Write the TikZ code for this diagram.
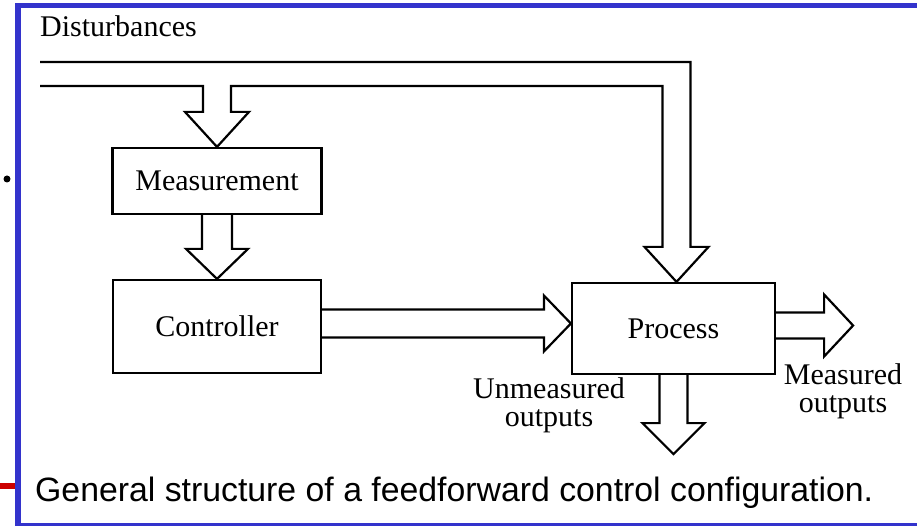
\documentclass[tikz,border=0pt]{standalone}
\usepackage{fontspec}
\setmainfont{Liberation Serif}
\newfontfamily\capfont{Liberation Sans}
\usetikzlibrary{calc}
\definecolor{frameblue}{RGB}{51,51,204}
\definecolor{framered}{RGB}{204,0,0}
\begin{document}
\begin{tikzpicture}[x=1pt,y=-1pt,
    blk/.style={draw,line width=2.2pt,inner sep=0pt,font=\fontsize{30}{27}\selectfont},
    lbl/.style={inner sep=0pt,align=center,font=\fontsize{30}{28}\selectfont},
    fat/.style={draw,line width=2.2pt,line join=miter}]
\useasboundingbox (0,0) rectangle (917,526);
% frame
\fill[frameblue] (15,3) rectangle (917,8);
\fill[frameblue] (15,3) rectangle (21,526);
\fill[frameblue] (15,523) rectangle (917,526);
\fill[framered] (0,483) rectangle (15,489);
\fill (7,179) circle (3.5pt);

% blocks
\node[blk,minimum width=209pt,minimum height=66pt] (meas) at (217,181) {Measurement};
\node[blk,minimum width=208pt,minimum height=93pt] (ctrl) at (217,326.5) {Controller};
\node[blk,minimum width=203pt,minimum height=91pt] (proc) at (673.5,328.5) {Process};

% labels
\node[lbl,anchor=base west] (dist) at (40,37) {Disturbances};
\node[lbl] (unmeas) at (549,405) {Unmeasured\\outputs};
\node[lbl] (measout) at (843,391) {Measured\\outputs};
\node[anchor=base west,inner sep=0pt,font=\capfont\fontsize{33.8}{34}\selectfont] (cap) at (35,501) {General structure of a feedforward control configuration.};

% disturbances into measurement and process
\coordinate (in1) at (40,86);
\coordinate (in2) at (40,62);
\coordinate (ptip) at ($(proc.north)+(3,0)$);
\coordinate (pl) at ($(ptip)+(-14,-35)$);
\draw[fat] (in1) -| ($(meas.north)+(-14,-35)$) -- ++(-18,0) -- (meas.north) -- ++(32,-35) -- ++(-18,0) |- (pl |- in1) -- (pl) -- ++(-18,0) -- (ptip) -- ++(32,-35) -- ++(-18,0) |- (in2);

% measurement to controller
\draw[fat] ($(meas.south)+(-15,0)$) -- ($(ctrl.north)+(-15,-30)$) -- ++(-16,0) -- (ctrl.north) -- ++(31,-30) -- ++(-16,0) -- ($(meas.south)+(15,0)$);

% controller to process
\coordinate (ctip) at ($(proc.west)+(0,-5)$);
\coordinate (cout) at (ctrl.east |- ctip);
\draw[fat] ($(cout)+(0,-14)$) -- ($(ctip)+(-27,-14)$) -- ++(0,-14) -- (ctip) -- ++(-27,28) -- ++(0,-14) -- ($(cout)+(0,14)$);

% outputs
\coordinate (rs) at ($(proc.east)+(0,-3)$);
\draw[fat] ($(rs)+(0,-13)$) -- ++(48,0) -- ++(0,-18) -- ($(rs)+(77,0)$) -- ++(-29,31) -- ++(0,-18) -- ($(rs)+(0,13)$);
\draw[fat] ($(proc.south)+(-14,0)$) -- ++(0,48) -- ++(-17,0) -- ($(proc.south)+(0,79)$) -- ++(31,-31) -- ++(-17,0) -- ($(proc.south)+(14,0)$);
\end{tikzpicture}
\end{document}
